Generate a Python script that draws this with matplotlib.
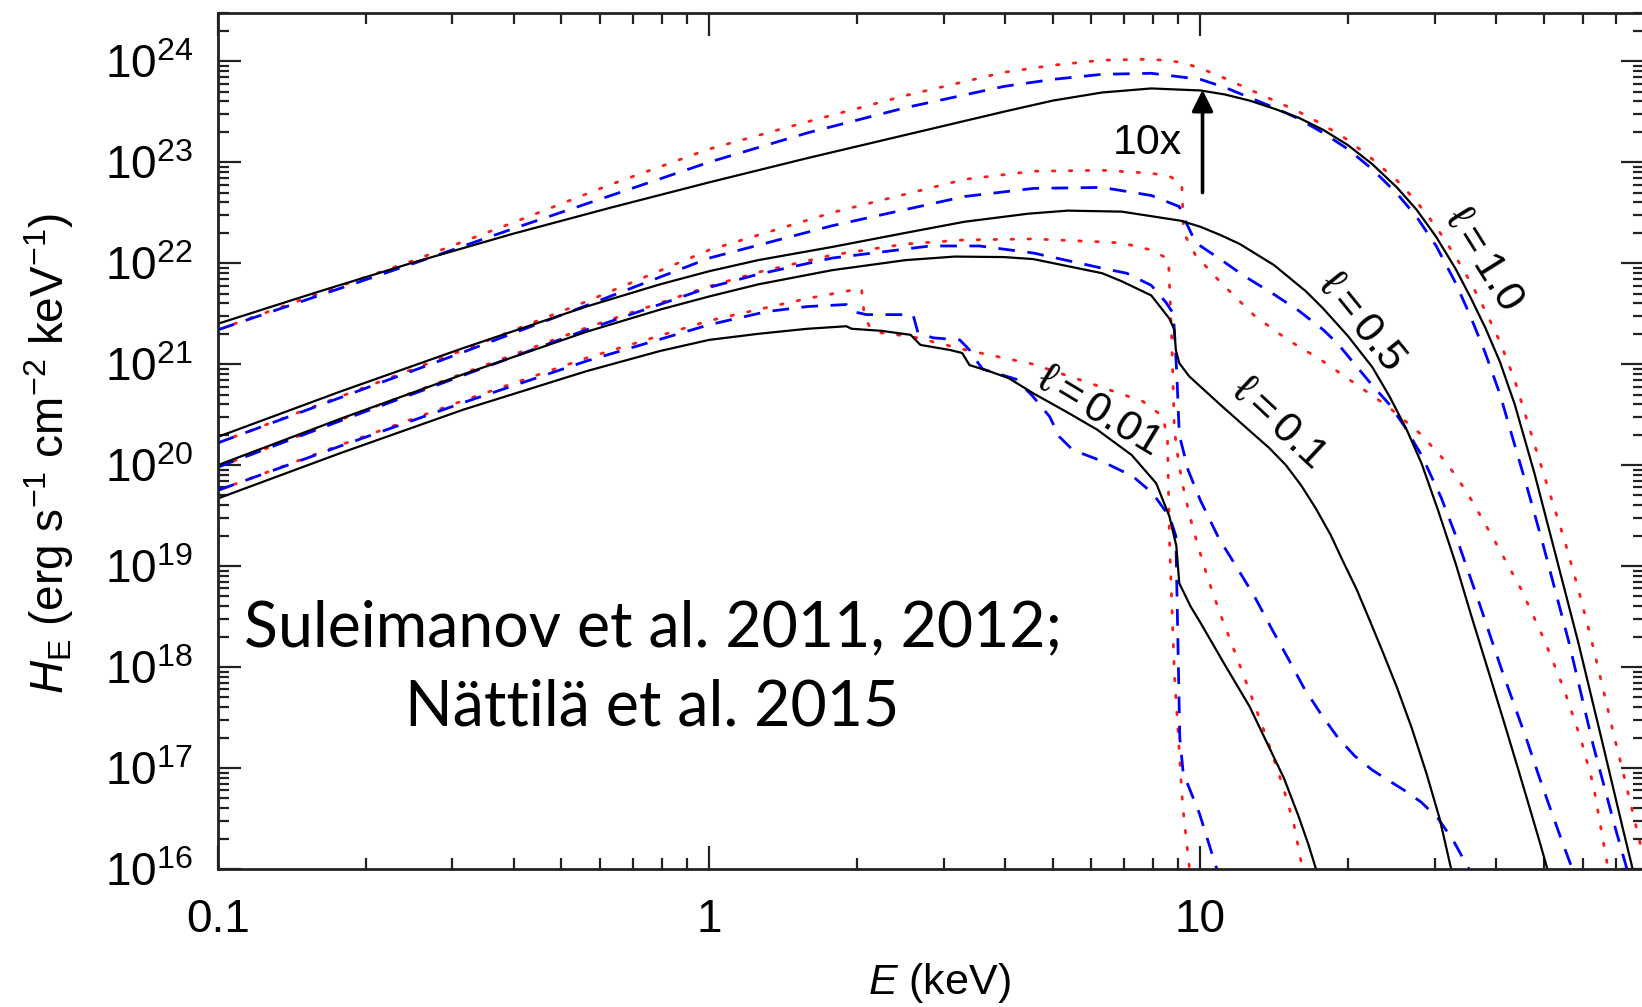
import matplotlib
matplotlib.use("Agg")
import matplotlib.pyplot as plt
import numpy as np
from matplotlib.ticker import LogLocator, LogFormatterSciNotation, NullFormatter, FixedLocator, FixedFormatter

plt.rcParams['font.family'] = ['Liberation Sans', 'DejaVu Sans']
plt.rcParams['mathtext.fontset'] = 'custom'
plt.rcParams['mathtext.rm'] = 'Liberation Sans'
plt.rcParams['mathtext.it'] = 'Liberation Sans:italic'
plt.rcParams['mathtext.default'] = 'regular'

# ---- spectra: log10 E [keV] and log10 H_E [erg s^-1 cm^-2 keV^-1] ----
# l = 1.0 (shown multiplied by 10)
l10_black_logE = [-1.0, -0.8, -0.6, -0.4, -0.2, 0.0, 0.2, 0.4, 0.6, 0.7, 0.8, 0.9, 1.0, 1.05, 1.1, 1.15,
                  1.2, 1.25, 1.3, 1.35, 1.4, 1.44, 1.48, 1.52, 1.55, 1.58, 1.61, 1.64, 1.68, 1.72, 1.77,
                  1.82, 1.86, 1.89]
l10_black_logH = [21.40, 21.71, 22.01, 22.29, 22.55, 22.80, 23.04, 23.27, 23.50, 23.61, 23.69, 23.73, 23.71,
                  23.67, 23.61, 23.53, 23.44, 23.32, 23.17, 22.98, 22.75, 22.53, 22.26, 21.94, 21.66, 21.36,
                  21.02, 20.60, 19.92, 19.17, 18.23, 17.22, 16.40, 15.80]
l10_blue_logE = [-1.0, -0.8, -0.6, -0.4, -0.2, 0.0, 0.2, 0.4, 0.6, 0.7, 0.8, 0.9, 1.0, 1.05, 1.1, 1.15, 1.2,
                 1.25, 1.3, 1.35, 1.4, 1.44, 1.48, 1.52, 1.55, 1.58, 1.61, 1.635, 1.665, 1.695, 1.75, 1.8,
                 1.845, 1.88]
l10_blue_logH = [21.34, 21.67, 22.00, 22.34, 22.67, 23.00, 23.29, 23.54, 23.75, 23.82, 23.87, 23.88, 23.82,
                 23.74, 23.64, 23.54, 23.43, 23.29, 23.13, 22.93, 22.69, 22.46, 22.17, 21.80, 21.47, 21.11,
                 20.70, 20.28, 19.78, 19.26, 18.25, 17.22, 16.40, 15.80]
l10_red_logE = [-1.0, -0.8, -0.6, -0.4, -0.2, 0.0, 0.2, 0.4, 0.6, 0.7, 0.8, 0.9, 0.96, 1.0, 1.05, 1.1, 1.15,
                1.2, 1.25, 1.3, 1.35, 1.4, 1.44, 1.48, 1.52, 1.55, 1.58, 1.61, 1.64, 1.674, 1.71, 1.741,
                1.77, 1.796, 1.82, 1.843, 1.865, 1.884, 1.92]
l10_red_logH = [21.34, 21.69, 22.03, 22.40, 22.78, 23.13, 23.40, 23.66, 23.89, 23.96, 24.01, 24.02, 23.99,
                23.93, 23.83, 23.72, 23.61, 23.50, 23.37, 23.22, 23.03, 22.82, 22.61, 22.36, 22.06, 21.81,
                21.53, 21.22, 20.84, 20.30, 19.74, 19.26, 18.76, 18.27, 17.78, 17.30, 16.87, 16.48, 15.75]

# l = 0.5
l05_black_logE = [-1.0, -0.75, -0.5, -0.25, -0.1, 0.0, 0.1, 0.25, 0.4, 0.52, 0.65, 0.73, 0.84, 0.96, 1.0,
                  1.04, 1.08, 1.11, 1.15, 1.18, 1.215, 1.25, 1.3, 1.35, 1.385, 1.42, 1.45, 1.484, 1.52,
                  1.552, 1.585, 1.619, 1.645, 1.667, 1.69, 1.707, 1.72]
l05_black_logH = [20.28, 20.73, 21.16, 21.57, 21.79, 21.92, 22.03, 22.16, 22.30, 22.41, 22.49, 22.52, 22.51,
                  22.42, 22.36, 22.28, 22.19, 22.10, 21.98, 21.86, 21.72, 21.55, 21.28, 20.97, 20.68, 20.35,
                  20.02, 19.55, 19.02, 18.50, 17.98, 17.44, 17.02, 16.66, 16.28, 15.99, 15.77]
l05_blue_logE = [-1.0, -0.75, -0.5, -0.25, 0.0, 0.25, 0.52, 0.66, 0.8, 0.9, 0.957, 0.971, 0.991, 1.04, 1.09,
                 1.15, 1.2, 1.25, 1.28, 1.314, 1.35, 1.385, 1.416, 1.45, 1.49, 1.52, 1.545, 1.57, 1.592,
                 1.615, 1.64, 1.665, 1.687, 1.71, 1.735, 1.758, 1.77]
l05_blue_logH = [20.22, 20.67, 21.12, 21.58, 22.05, 22.37, 22.66, 22.74, 22.75, 22.67, 22.56, 22.40, 22.20,
                 22.04, 21.87, 21.69, 21.53, 21.34, 21.20, 21.00, 20.79, 20.60, 20.38, 20.10, 19.68, 19.30,
                 18.95, 18.60, 18.28, 17.95, 17.61, 17.27, 16.95, 16.63, 16.29, 15.99, 15.80]
l05_red_logE = [-1.0, -0.75, -0.5, -0.25, 0.0, 0.25, 0.52, 0.66, 0.8, 0.9, 0.937, 0.962, 0.966, 0.99, 1.043,
                1.11, 1.178, 1.246, 1.314, 1.382, 1.45, 1.5, 1.544, 1.598, 1.653, 1.70, 1.741, 1.775, 1.80,
                1.83, 1.84]
l05_red_logH = [20.22, 20.68, 21.14, 21.62, 22.13, 22.50, 22.83, 22.91, 22.92, 22.89, 22.86, 22.79, 22.30,
                22.08, 21.80, 21.48, 21.24, 21.04, 20.81, 20.58, 20.30, 20.03, 19.72, 19.26, 18.77, 18.27,
                17.77, 17.28, 16.83, 16.00, 15.75]

# l = 0.1
l01_black_logE = [-1.0, -0.75, -0.5, -0.25, -0.1, 0.0, 0.1, 0.25, 0.4, 0.5, 0.6, 0.66, 0.8, 0.84, 0.9, 0.937,
                  0.947, 0.950, 0.957, 0.977, 1.04, 1.105, 1.14, 1.174, 1.205, 1.235, 1.265, 1.29, 1.318,
                  1.344, 1.372, 1.40, 1.43, 1.46, 1.487, 1.511, 1.52]
l01_black_logH = [20.00, 20.46, 20.90, 21.32, 21.54, 21.67, 21.79, 21.93, 22.03, 22.065, 22.06, 22.04, 21.90,
                  21.82, 21.68, 21.45, 21.34, 21.14, 21.01, 20.88, 20.60, 20.32, 20.17, 20.00, 19.80, 19.57,
                  19.31, 19.05, 18.77, 18.47, 18.14, 17.80, 17.40, 16.95, 16.50, 15.99, 15.80]
l01_blue_logE = [-1.0, -0.75, -0.5, -0.25, 0.0, 0.1, 0.25, 0.45, 0.55, 0.66, 0.8, 0.85, 0.9, 0.93, 0.945,
                 0.952, 0.957, 0.975, 1.0, 1.037, 1.075, 1.11, 1.145, 1.178, 1.21, 1.246, 1.28, 1.314, 1.35,
                 1.382, 1.415, 1.45, 1.484, 1.515, 1.548, 1.56]
l01_blue_logH = [19.98, 20.44, 20.89, 21.34, 21.76, 21.89, 22.05, 22.17, 22.17, 22.10, 21.95, 21.90, 21.78,
                 21.61, 21.50, 20.90, 20.30, 19.95, 19.65, 19.28, 18.98, 18.70, 18.38, 18.09, 17.80, 17.53,
                 17.30, 17.12, 16.98, 16.88, 16.78, 16.66, 16.50, 16.28, 15.99, 15.87]
l01_red_logE = [-1.0, -0.75, -0.5, -0.25, 0.0, 0.1, 0.25, 0.4, 0.52, 0.66, 0.8, 0.84, 0.9, 0.935, 0.942,
                0.947, 0.955, 0.965, 0.978, 0.995, 1.015, 1.04, 1.07, 1.1, 1.134, 1.168, 1.19, 1.208, 1.215]
l01_red_logH = [19.98, 20.45, 20.91, 21.36, 21.77, 21.91, 22.08, 22.19, 22.23, 22.24, 22.21, 22.20, 22.13,
                22.04, 21.20, 20.35, 20.05, 19.78, 19.50, 19.20, 18.88, 18.53, 18.15, 17.76, 17.31, 16.82,
                16.45, 16.00, 15.85]

# l = 0.01
l001_black_logE = [-1.0, -0.75, -0.5, -0.25, -0.1, 0.0, 0.1, 0.2, 0.279, 0.29, 0.35, 0.41, 0.43, 0.49,
                   0.515, 0.53, 0.57, 0.61, 0.66, 0.73, 0.79, 0.86, 0.91, 0.937, 0.951, 0.957, 0.98, 1.0,
                   1.05, 1.1, 1.17, 1.2, 1.22, 1.236, 1.245]
l001_black_logH = [19.67, 20.12, 20.55, 20.93, 21.13, 21.24, 21.30, 21.35, 21.375, 21.35, 21.33, 21.29, 21.19,
                   21.14, 21.11, 20.99, 20.93, 20.86, 20.71, 20.52, 20.35, 20.10, 19.82, 19.49, 19.20, 18.83,
                   18.60, 18.44, 18.02, 17.61, 16.90, 16.52, 16.24, 15.99, 15.80]
l001_blue_logE = [-1.0, -0.75, -0.5, -0.25, 0.0, 0.117, 0.2, 0.279, 0.293, 0.32, 0.415, 0.425, 0.456, 0.51,
                  0.53, 0.537, 0.557, 0.625, 0.659, 0.693, 0.713, 0.74, 0.794, 0.862, 0.903, 0.937, 0.95,
                  0.954, 0.958, 0.965, 0.998, 1.034, 1.04]
l001_blue_logH = [19.75, 20.19, 20.62, 21.03, 21.39, 21.52, 21.57, 21.59, 21.52, 21.49, 21.49, 21.31, 21.26,
                  21.24, 21.14, 21.08, 20.95, 20.85, 20.68, 20.48, 20.28, 20.15, 20.05, 19.89, 19.72, 19.49,
                  19.30, 18.30, 17.30, 16.95, 16.55, 15.99, 15.85]
l001_red_logE = [-1.0, -0.75, -0.5, -0.25, 0.0, 0.117, 0.2, 0.31, 0.316, 0.33, 0.35, 0.415, 0.523, 0.659,
                 0.794, 0.883, 0.924, 0.933, 0.937, 0.947, 0.964, 0.978, 0.982]
l001_red_logH = [19.75, 20.20, 20.64, 21.06, 21.43, 21.56, 21.65, 21.75, 21.47, 21.34, 21.31, 21.27, 21.14,
                 21.00, 20.78, 20.63, 20.48, 20.25, 19.26, 17.94, 16.62, 15.99, 15.80]

# curve labels: text, E [keV], H_E, rotation [deg]
label_texts = [r'$\ell = 1.0$', r'$\ell = 0.5$', r'$\ell = 0.1$', r'$\ell = 0.01$']
label_E = [37.6, 21.2, 14.4, 6.2]
label_H = [1.1e22, 2.6e21, 2.6e20, 3.4e20]
label_rot = [-58, -51, -43, -31]

# "10x" scaling arrow
arrow_E = 10.1
arrow_H_from = 5.0e22
arrow_H_to = 5.2e23

xtick_values = [0.1, 1, 10]
xtick_labels = ['0.1', '1', '10']

W, H = 1642, 1007
fig = plt.figure(figsize=(W / 100, H / 100), dpi=100)
ax = fig.add_axes([218 / W, 1 - 869 / H, (1644 - 218) / W, (869 - 13) / H])
ax.set_xscale('log')
ax.set_yscale('log')
ax.set_xlim(0.1, 80)
ax.set_ylim(1e16, 3e24)

red_style = dict(color='#ff1a1a', lw=2.0, ls=(0, (0.9, 5.2)), dash_capstyle='round')
blue_style = dict(color='#0000ff', lw=2.0, ls=(0, (6.0, 4.5)))
black_style = dict(color='black', lw=1.6, ls='-')

groups = [
    (l10_red_logE, l10_red_logH, l10_blue_logE, l10_blue_logH, l10_black_logE, l10_black_logH),
    (l05_red_logE, l05_red_logH, l05_blue_logE, l05_blue_logH, l05_black_logE, l05_black_logH),
    (l01_red_logE, l01_red_logH, l01_blue_logE, l01_blue_logH, l01_black_logE, l01_black_logH),
    (l001_red_logE, l001_red_logH, l001_blue_logE, l001_blue_logH, l001_black_logE, l001_black_logH),
]
for rE, rH, bE, bH, kE, kH in groups:
    ax.plot(10 ** np.array(rE), 10 ** np.array(rH), **red_style)
    ax.plot(10 ** np.array(bE), 10 ** np.array(bH), **blue_style)
for rE, rH, bE, bH, kE, kH in groups:
    ax.plot(10 ** np.array(kE), 10 ** np.array(kH), **black_style)

for txt, e, h, rot in zip(label_texts, label_E, label_H, label_rot):
    ax.text(e, h, txt, rotation=rot, rotation_mode='anchor', ha='center', va='center',
            fontsize=31, color='black')

ax.annotate('', xy=(arrow_E, arrow_H_to), xytext=(arrow_E, arrow_H_from),
            arrowprops=dict(arrowstyle='-|>', lw=2.6, color='black', mutation_scale=32,
                            shrinkA=0, shrinkB=0))
ax.text(7.8, 1.55e23, '10x', fontsize=31, ha='center', va='center')

# axes decoration
ax.xaxis.set_major_locator(FixedLocator(xtick_values))
ax.xaxis.set_major_formatter(FixedFormatter(xtick_labels))
ax.xaxis.set_minor_locator(LogLocator(base=10, subs=np.arange(2, 10), numticks=50))
ax.xaxis.set_minor_formatter(NullFormatter())
ax.yaxis.set_major_locator(LogLocator(base=10, numticks=50))
ax.yaxis.set_major_formatter(LogFormatterSciNotation())
ax.yaxis.set_minor_locator(LogLocator(base=10, subs=np.arange(2, 10), numticks=50))
ax.yaxis.set_minor_formatter(NullFormatter())

ax.tick_params(which='both', direction='in', top=True, right=True, width=1.6, color='#222222')
ax.tick_params(which='major', length=16.5, labelsize=33)
ax.tick_params(which='minor', length=8)
ax.tick_params(axis='x', which='major', pad=21)
ax.tick_params(axis='y', which='major', pad=18)
for s in ax.spines.values():
    s.set_linewidth(2.0)
    s.set_color('#222222')

ax.set_xlabel(r'$\mathit{E}$ (keV)', fontsize=31, va='top')
ax.xaxis.set_label_coords(0.5056, -0.1075)
ax.set_ylabel(r'$\mathit{H}_\mathrm{E}$ (erg s$^{-1}$ cm$^{-2}$ keV$^{-1}$)', fontsize=33)
ax.yaxis.set_label_coords(-0.0996, 0.4848)

fig.text(653 / W, 1 - 646 / H, 'Suleimanov et al. 2011, 2012;', family=['Lato', 'DejaVu Sans'],
         fontsize=45, ha='center', va='baseline')
fig.text(652 / W, 1 - 725 / H, 'Nättilä et al. 2015', family=['Lato', 'DejaVu Sans'],
         fontsize=45, ha='center', va='baseline')

fig.savefig('out.png', dpi=100)
